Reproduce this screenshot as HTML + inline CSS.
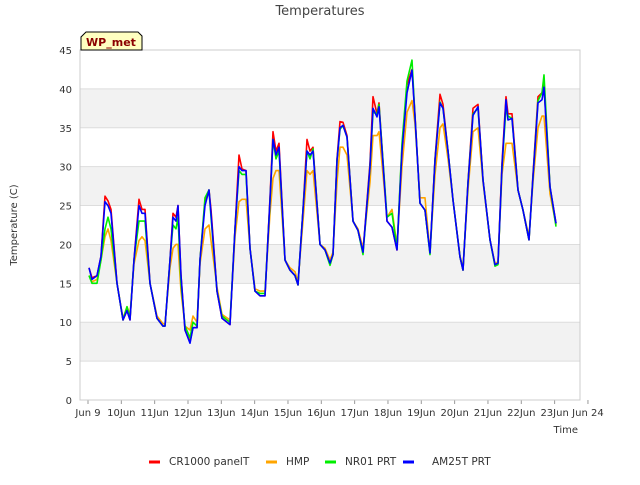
<!DOCTYPE html>
<html><head><meta charset="utf-8"><style>
body{margin:0;background:#fff;font-family:"Liberation Sans",sans-serif}
svg text{font-family:"DejaVu Sans","Liberation Sans",sans-serif}
</style></head><body>
<svg width="640" height="480" viewBox="0 0 640 480">
<text x="320" y="15" text-anchor="middle" font-size="13" fill="#444">Temperatures</text>
<g id="plot"></g>
<g id="axes"></g>
<g id="series"></g>
<rect x="80" y="50" width="500" height="350" fill="none" stroke="#ccc"/>
<text x="578" y="433" text-anchor="end" font-size="10" fill="#333">Time</text>
<text transform="translate(17,225) rotate(-90)" text-anchor="middle" font-size="10" fill="#333">Temperature (C)</text>
<g>
<path d="M86,32 L138,32 L142,36 L142,50 L81,50 L81,37 Z" fill="#ffffc0" stroke="#000"/>
<text x="111" y="46" text-anchor="middle" font-size="11" font-weight="bold" fill="#8b0000">WP_met</text>
</g>
<g id="legend"></g>
</svg>
<script>
const NS="http://www.w3.org/2000/svg";
const times=[.03,.12,.27,.39,.51,.60,.69,.87,1.05,1.17,1.26,1.38,1.53,1.62,1.71,1.86,2.07,2.25,2.31,2.46,2.55,2.64,2.70,2.79,2.91,3.06,3.15,3.27,3.36,3.51,3.63,3.69,3.87,4.02,4.26,4.41,4.53,4.62,4.74,4.86,5.01,5.16,5.31,5.46,5.55,5.64,5.73,5.91,6.06,6.21,6.30,6.45,6.57,6.66,6.75,6.96,7.11,7.26,7.35,7.47,7.56,7.65,7.77,7.95,8.10,8.25,8.46,8.55,8.67,8.73,8.97,9.12,9.27,9.42,9.57,9.72,9.81,9.96,10.11,10.26,10.41,10.56,10.65,10.80,10.95,11.16,11.25,11.40,11.55,11.70,11.85,12.06,12.21,12.30,12.42,12.54,12.60,12.72,12.90,13.05,13.23,13.35,13.50,13.62,13.68,13.86,14.04];
const cr1000=[17,15.7,16,18.5,26.2,25.6,24.5,15,10.3,11.5,10.3,18,25.8,24.5,24.5,15,10.5,9.5,9.5,18,24,23.5,25,16,9,7.5,9.3,9.3,18,25.5,27,24.5,14,10.5,9.7,22,31.5,29.7,29.5,19.5,14,13.4,13.4,26,34.5,32,33,18,16.7,16,14.8,24.4,33.5,32,32.5,20,19.3,17.6,18.7,31,35.8,35.7,34,23,21.8,19,30.5,39,36.8,38.2,23,22.2,19.3,32.5,40.5,42.5,36.6,25.3,24.4,18.9,31,39.3,38,32,25.7,18.4,16.7,28,37.5,38,28.3,20.6,17.4,17.6,30.5,39,36.8,36.8,27,24.4,20.6,29,39,39.5,40.5,27.4,22.7];
const hmp=[16,15.2,15.5,18,21,22,20.5,15,10.5,12,11,17.5,20.5,21,20.5,15,10.8,9.8,9.8,17,19.5,20,20,14,9.5,9,10.8,10,17.5,22,22.5,20.5,14.5,11,10.3,21,25.5,25.8,25.8,19.5,14.3,14,14,24,28.5,29.5,29.5,18,17,16.5,15.2,23,29.5,29,29.5,20,19.5,18,19,28,32.5,32.5,31.5,23,22,19.5,28,34,34,34.5,23.5,24.5,19.8,30,37,38.5,35.5,26,26,19,29,35,35.5,31,25.7,18.5,17,27,34.5,35,28,20.6,17.5,17.8,29,33,33,33,27,24.4,21,28,35,36.5,36.5,26.5,22.5];
const nr01=[16,15,15,18,22,23.5,22,15,10.3,12,10.5,18,23,23,23,15,10.5,9.5,9.5,18,22.5,22,23.5,15,9.5,8,10,9.5,18,26,27,23.5,14,10.8,10,22,29.5,29,29,19.5,14,13.7,13.7,25.5,33.5,31,32,18,16.7,16,14.8,24.5,32,31,32.3,20,19.3,17.3,18.7,30.8,34.8,35.3,33.8,23,21.8,18.7,30,37,36.8,38,23.5,24,19.5,33,41,43.7,36.4,25.3,24.4,18.7,30.8,38.3,37.5,32,25.7,18.4,16.7,27.9,36.8,37.5,28.3,20.6,17.2,17.4,30,37.5,36.5,36.2,27,24.4,20.6,28.7,38.5,39.5,41.8,27.4,22.3];
const am25t=[17,15.5,16,18.5,25.5,25,24,15,10.3,11.5,10.3,18,25,24,24,15,10.5,9.5,9.5,18,23.5,23,25,16,9,7.3,9.3,9.3,18,25,27,24,14,10.5,9.7,22,30,29.5,29.5,19.5,14,13.4,13.4,25.7,33.5,31.5,32.5,18,16.7,16,14.8,24.4,32,31.5,32,20,19.3,17.6,18.7,30.8,35,35.3,33.8,23,21.8,19,30,37.5,36.4,37.7,23,22.2,19.3,32,39.5,42.4,36.4,25.3,24.4,18.9,30.8,38.2,37.5,32,25.7,18.4,16.7,27.9,36.6,37.7,28.3,20.6,17.4,17.6,30,38.6,36,36.2,27,24.4,20.6,28.7,38.2,38.6,40.2,27.4,22.7];
const yTicks=[0,5,10,15,20,25,30,35,40,45];
const xTickLabels=["Jun 9","10Jun","11Jun","12Jun","13Jun","14Jun","15Jun","16Jun","17Jun","18Jun","19Jun","20Jun","21Jun","22Jun","23Jun","Jun 24"];
const seriesNames=["CR1000 panelT","HMP","NR01 PRT","AM25T PRT"];
const seriesColors=["#ff0000","#ffa500","#00ee00","#0000ff"];
const seriesData=[cr1000,hmp,nr01,am25t];

const X=d=>88+d*33.33, Y=v=>400-v*350/45;
const plot=document.getElementById('plot'),axes=document.getElementById('axes'),ser=document.getElementById('series'),leg=document.getElementById('legend');
function mk(t,a,p){const e=document.createElementNS(NS,t);for(const k in a)e.setAttribute(k,a[k]);p.appendChild(e);return e;}
for(let i=0;i<yTicks.length-1;i++){
  if(i%2===1){const b=mk('rect',{x:80,y:Y(yTicks[i+1]),width:500,height:Y(yTicks[i])-Y(yTicks[i+1]),fill:'#f2f2f2'},plot);
  
  }
}
yTicks.forEach(v=>{
  const g=mk('line',{x1:80,x2:580,y1:Y(v),y2:Y(v),stroke:'#ddd'},plot);
  
  
  const t=mk('text',{x:72,y:Y(v)+4,'text-anchor':'end','font-size':10,fill:'#333'},axes);t.textContent=v;
  
  
});
xTickLabels.forEach((s,i)=>{
  const tk=mk('line',{x1:X(i),x2:X(i),y1:400,y2:404,stroke:'#999'},axes);
  
  
  const t=mk('text',{x:X(i),y:416,'text-anchor':'middle','font-size':10,fill:'#333'},axes);t.textContent=s;
  
  
});
seriesData.forEach((arr,si)=>{
  const d=arr.map((v,i)=>(i?'L':'M')+X(times[i]).toFixed(1)+','+Y(v).toFixed(1)).join('');
  const p=mk('path',{d:d,fill:'none',stroke:seriesColors[si],'stroke-width':1.6,'stroke-linejoin':'round'},ser);
  
  
});
const lx=[149,266,325,403];
const tx=[169,286,345,432];
seriesNames.forEach((n,i)=>{
  const g=mk('g',{},leg);
  
  
  mk('line',{x1:lx[i],x2:lx[i]+11,y1:462,y2:462,stroke:seriesColors[i],'stroke-width':3},g);
  const t=mk('text',{x:tx[i],y:465,'font-size':10.5,fill:'#333'},g);t.textContent=n;
});
</script>
</body></html>
